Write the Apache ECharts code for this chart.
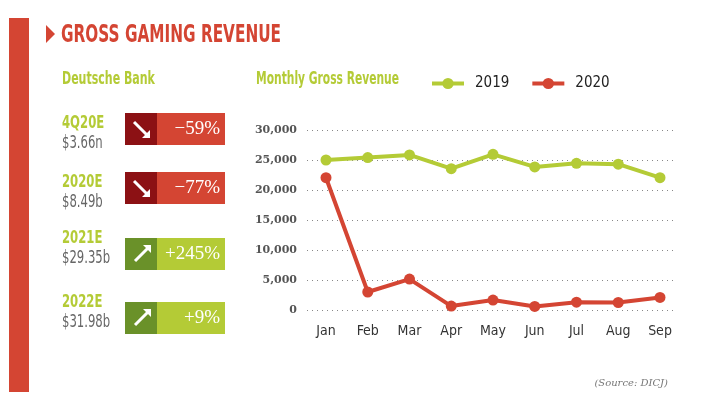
<!DOCTYPE html>
<html>
<head>
<meta charset="utf-8">
<title>Gross Gaming Revenue</title>
<script src="https://cdn.jsdelivr.net/npm/echarts@6/dist/echarts.min.js"></script>
<style>
  html, body { margin: 0; padding: 0; background: #fff; }
  #main { width: 711px; height: 399px; }
</style>
</head>
<body>
<div id="main"></div>
<script>
// monthly gross revenue (MOP million)
var months = ['Jan', 'Feb', 'Mar', 'Apr', 'May', 'Jun', 'Jul', 'Aug', 'Sep'];
var rev2019 = [25000, 25400, 25850, 23550, 25950, 23850, 24450, 24300, 22050];
var rev2020 = [22050, 3000, 5150, 650, 1650, 600, 1300, 1250, 2100];
var yTicks = [0, 5000, 10000, 15000, 20000, 25000, 30000];

// Deutsche Bank estimates
var dbPeriods = ['4Q20E', '2020E', '2021E', '2022E'];
var dbValues = ['$3.66n', '$8.49b', '$29.35b', '$31.98b'];
var dbChanges = ['−59%', '−77%', '+245%', '+9%'];

var RED = '#d44533', DARK_RED = '#8c1114';
var GREEN = '#b4cb36', DARK_GREEN = '#6a9129';
var COND = '"DejaVu Sans Condensed", "DejaVu Sans", sans-serif';

var chart = echarts.init(document.getElementById('main'));

var boxTops = [113, 172, 238, 302];
var labelTops = [115, 174, 230, 294];

// narrow text: the original uses a condensed face, so squeeze horizontally
function narrow(x, y, text, fill, font, sx, extra) {
  var st = { text: text, fill: fill, font: font, verticalAlign: 'middle' };
  if (extra) Object.assign(st, extra);
  return { type: 'text', x: x, y: y, scaleX: sx, style: st };
}

var graphics = [
  { type: 'rect', shape: { x: 9, y: 18, width: 20, height: 374 }, style: { fill: RED } },
  { type: 'polygon', shape: { points: [[46, 25], [55, 34], [46, 43]] }, style: { fill: RED } },
  narrow(61, 35, 'GROSS GAMING REVENUE', RED, 'bold 25px ' + COND, 0.68),
  narrow(62, 80, 'Deutsche Bank', GREEN, 'bold 17px ' + COND, 0.72),
  narrow(256, 80, 'Monthly Gross Revenue', GREEN, 'bold 17px ' + COND, 0.7),
  { type: 'text', x: 668, y: 383, style: { text: '(Source: DICJ)', fill: '#777', font: 'italic 10px "DejaVu Serif", serif', align: 'right', verticalAlign: 'middle' } }
];

dbPeriods.forEach(function (p, i) {
  var up = dbChanges[i].charAt(0) === '+';
  var y0 = boxTops[i];
  var a = up ? [[135, y0 + 23], [149, y0 + 9]] : [[134, y0 + 9], [148, y0 + 23]];
  var head = up
    ? [[151, y0 + 7], [151, y0 + 15], [143, y0 + 7]]
    : [[150, y0 + 25], [142, y0 + 25], [150, y0 + 17]];
  graphics.push(
    narrow(62, labelTops[i] + 8, p, GREEN, 'bold 18px ' + COND, 0.72),
    narrow(62, labelTops[i] + 28, dbValues[i], '#666', '18px ' + COND, 0.72),
    { type: 'rect', shape: { x: 125, y: y0, width: 100, height: 32 }, style: { fill: up ? GREEN : RED } },
    { type: 'rect', shape: { x: 125, y: y0, width: 32, height: 32 }, style: { fill: up ? DARK_GREEN : DARK_RED } },
    { type: 'polyline', shape: { points: a }, style: { stroke: '#fff', lineWidth: 3 } },
    { type: 'polygon', shape: { points: head }, style: { fill: '#fff' } },
    { type: 'text', x: 220, y: y0 + 16, style: { text: dbChanges[i], fill: '#fff', font: '19px "Liberation Serif", serif', align: 'right', verticalAlign: 'middle' } }
  );
});

var option = {
  animation: false,
  backgroundColor: '#fff',
  graphic: graphics,
  legend: {
    left: 425,
    top: 71,
    itemWidth: 32,
    itemHeight: 14,
    itemGap: 21,
    lineStyle: { width: 4 },
    textStyle: { fontFamily: COND, fontSize: 15, color: '#222', padding: [0, 0, 0, 6] },
    data: ['2019', '2020']
  },
  grid: [
    { left: 326, right: 51, top: 130, bottom: 89 },
    { left: 307, right: 38, top: 130, bottom: 89 }
  ],
  xAxis: [
    {
      type: 'category', gridIndex: 0, data: months, boundaryGap: false,
      axisLine: { show: false }, axisTick: { show: false },
      axisLabel: { margin: 14, fontFamily: COND, fontSize: 14, color: '#333' }
    },
    { type: 'value', gridIndex: 1, min: 0, max: 1, show: false }
  ],
  yAxis: [
    { type: 'value', gridIndex: 0, min: 0, max: 30000, show: false },
    {
      type: 'value', gridIndex: 1, min: 0, max: 30000, interval: 5000,
      axisLine: { show: false }, axisTick: { show: false },
      splitLine: { lineStyle: { type: [1, 4], color: '#888', width: 1 } },
      axisLabel: {
        margin: 10, color: '#555', fontFamily: '"DejaVu Serif", serif', fontWeight: 'bold', fontSize: 11,
        formatter: function (v) { return yTicks.indexOf(v) >= 0 ? v.toLocaleString('en-US') : ''; }
      }
    }
  ],
  series: [
    {
      name: '2019', type: 'line', data: rev2019, xAxisIndex: 0, yAxisIndex: 0,
      symbol: 'circle', symbolSize: 11, color: GREEN, lineStyle: { width: 4 }
    },
    {
      name: '2020', type: 'line', data: rev2020, xAxisIndex: 0, yAxisIndex: 0,
      symbol: 'circle', symbolSize: 11, color: RED, lineStyle: { width: 4 }
    }
  ]
};

chart.setOption(option);
</script>
</body>
</html>
